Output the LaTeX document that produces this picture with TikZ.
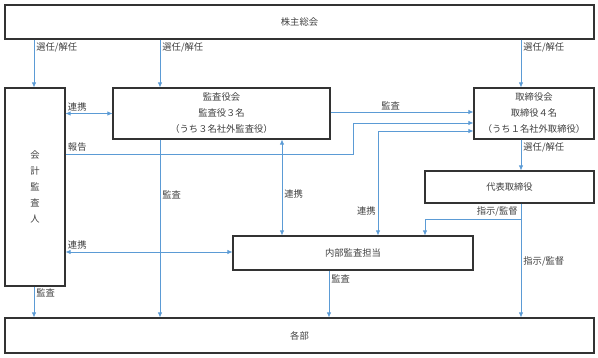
\documentclass[tikz,border=0pt]{standalone}
\usepackage{fontspec}
\setmainfont{Noto Sans CJK JP}
\usetikzlibrary{arrows.meta,positioning}
\definecolor{lineblue}{HTML}{5B9BD5}
\definecolor{boxgray}{HTML}{333333}
\definecolor{txtgray}{HTML}{404040}

\begin{document}
\begin{tikzpicture}[
    x=1pt, y=-1pt,
    box/.style={draw=boxgray, line width=1.1pt, inner sep=0pt, align=center,
                text=txtgray, font=\fontsize{9.3}{16}\selectfont},
    lbl/.style={text=txtgray, font=\fontsize{9.3}{11}\selectfont, inner sep=2pt},
    flow/.style={-{Latex[length=5pt,width=4.5pt]}, draw=lineblue, line width=0.8pt},
    twoway/.style={flow, {Latex[length=5pt,width=4.5pt]}-{Latex[length=5pt,width=4.5pt]}}]
  \useasboundingbox (0,0) rectangle (598,357);
  % boxes
  \node[box, minimum width=589pt, minimum height=34pt] (soukai) at (299.5,22) {株主総会};
  \node[box, minimum width=60pt, minimum height=198pt] (kaikei) at (35,187) {会\\計\\監\\査\\人};
  \node[box, minimum width=217pt, minimum height=51pt] (kansa) at (221.5,113.5)
    {監査役会\\監査役３名\\（うち３名社外監査役）};
  \node[box, minimum width=120pt, minimum height=51pt] (torishimari) at (534,113.5)
    {取締役会\\取締役４名\\（うち１名社外取締役）};
  \node[box, minimum width=169pt, minimum height=32pt] (daihyo) at (509.5,187) {代表取締役};
  \node[box, minimum width=240pt, minimum height=34pt] (naibu) at (353,253) {内部監査担当};
  \node[box, minimum width=589pt, minimum height=35pt] (kakubu) at (299.5,335.5) {各部};
  % line positions
  \coordinate (xa) at (34,0);
  \coordinate (xb) at (160,0);
  \coordinate (xc) at (521,0);
  \coordinate (xd) at (282,0);
  \coordinate (xe) at (353,0);
  \coordinate (xf) at (378,0);
  \coordinate (xg) at (329,0);
  \coordinate (xh) at (425,0);
  \coordinate (ya) at (0,154);
  \coordinate (yb) at (0,123);
  \coordinate (yc) at (0,131);
  \coordinate (ye) at (0,112);
  \coordinate (yf) at (0,252);
  \coordinate (bunki) at (521,219);
  % shareholders
  \draw[flow] (soukai.south -| xa) -- node[lbl, right, pos=0.17]{選任/解任} (kaikei.north -| xa);
  \draw[flow] (soukai.south -| xb) -- node[lbl, right, pos=0.17]{選任/解任} (kansa.north -| xb);
  \draw[flow] (soukai.south -| xc) -- node[lbl, right, pos=0.17]{選任/解任} (torishimari.north -| xc);
  \draw[flow] (torishimari.south -| xc) -- node[lbl, right, pos=0.25]{選任/解任} (daihyo.north -| xc);
  % auditors
  \draw[twoway] (kaikei.east |- kansa.west) node[lbl, anchor=south west]{連携} -- (kansa.west);
  \draw[flow] (kaikei.east |- ya) node[lbl, anchor=south west]{報告} -| (xe |- yb)
    -- (torishimari.west |- yb);
  \draw[flow] (kansa.east |- ye) -- node[lbl, above, pos=0.42]{監査} (torishimari.west |- ye);
  \draw[twoway] (kansa.south -| xd) -- node[lbl, right, pos=0.57]{連携} (naibu.north -| xd);
  \draw[twoway] (naibu.north -| xf) |- node[lbl, left, pos=0.115]{連携} (torishimari.west |- yc);
  \draw[flow] (kansa.south -| xb) -- node[lbl, right, pos=0.31]{監査} (kakubu.north -| xb);
  \draw[twoway] (kaikei.east |- yf) node[lbl, anchor=south west]{連携} -- (naibu.west |- yf);
  \draw[flow] (kaikei.south -| xa) -- node[lbl, right, pos=0.22]{監査} (kakubu.north -| xa);
  \draw[flow] (naibu.south -| xg) -- node[lbl, right, pos=0.17]{監査} (kakubu.north -| xg);
  % representative director
  \draw[flow] (daihyo.south -| xc) -- node[lbl, right, pos=0.51]{指示/監督} (kakubu.north -| xc);
  \draw[flow] (bunki) node[lbl, anchor=south east, xshift=-1pt]{指示/監督} -| (naibu.north -| xh);
\end{tikzpicture}
\end{document}
